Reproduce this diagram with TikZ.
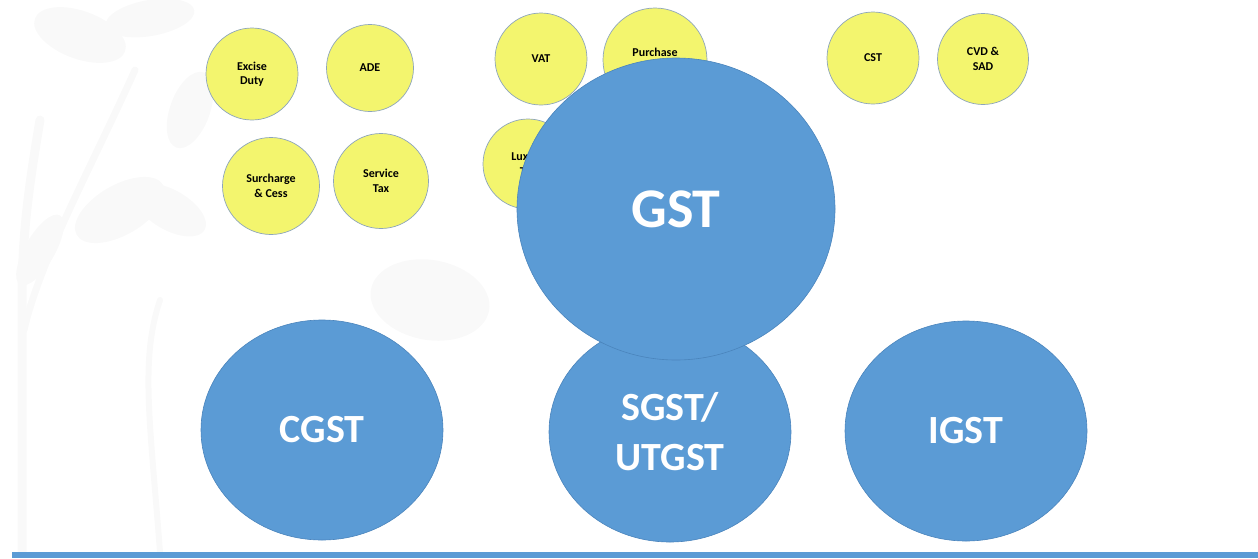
\documentclass[tikz,border=0pt]{standalone}
\usepackage{fontspec}
\setmainfont{Carlito}
\usetikzlibrary{shapes.geometric}

\definecolor{gstblue}{HTML}{5B9BD5}
\definecolor{gstrim}{HTML}{4A84BC}
\definecolor{taxyellow}{HTML}{F3F56E}
\definecolor{rimgrey}{HTML}{8DA5BC}
\definecolor{leafgrey}{HTML}{F9F9F9}

\begin{document}
\begin{tikzpicture}[x=1pt,y=-1pt,
    old/.style={circle, draw=rimgrey, line width=0.7pt, fill=taxyellow,
        align=center, inner sep=0pt, font=\fontsize{12}{14.5}\selectfont\bfseries},
    new/.style={ellipse, fill=gstblue, draw=gstrim, line width=0.6pt,
        text=white, align=center, inner sep=0pt,
        minimum width=242pt, minimum height=220pt,
        font=\fontsize{40}{50}\selectfont\bfseries},
    leaf/.style={fill=leafgrey, draw=none}]
    \useasboundingbox (0,0) rectangle (1258,558);

    % faint tree in the background
    \draw[leafgrey, line width=9pt, line cap=round]
        (22,552) -- (22,300) .. controls (22,230) and (30,180) .. (40,120);
    \draw[leafgrey, line width=7pt, line cap=round]
        (24,330) .. controls (40,260) and (90,170) .. (135,70);
    \draw[leafgrey, line width=6pt, line cap=round]
        (160,300) .. controls (140,360) and (150,420) .. (160,552);
    \fill[leaf, rotate around={-20:(80,35)}] (80,35) ellipse (48 and 24);
    \fill[leaf, rotate around={10:(150,18)}] (150,18) ellipse (45 and 18);
    \fill[leaf, rotate around={70:(190,110)}] (190,110) ellipse (40 and 20);
    \fill[leaf, rotate around={30:(120,210)}] (120,210) ellipse (50 and 25);
    \fill[leaf, rotate around={-30:(170,210)}] (170,210) ellipse (40 and 20);
    \fill[leaf, rotate around={60:(40,250)}] (40,250) ellipse (40 and 15);
    \fill[leaf, rotate around={-10:(430,300)}] (430,300) ellipse (60 and 40);

    % old taxes
    \node[old, minimum size=92pt] (excise) at (252,74) {Excise\\Duty};
    \node[old, minimum size=87pt] (ade) at (370,68) {ADE};
    \node[old, minimum size=97pt] (surcharge) at (271,186) {Surcharge\\\& Cess};
    \node[old, minimum size=95pt] (service) at (381,181) {Service\\Tax};
    \node[old, minimum size=92pt] (vat) at (541,59) {VAT};
    \node[old, minimum size=104pt] (purchase) at (655,60) {Purchase\\Tax};
    \node[old, minimum size=90pt] (luxury) at (528,164) {Luxury\\Tax};
    \node[old, minimum size=92pt] (cst) at (873,58) {CST};
    \node[old, minimum size=91pt] (cvd) at (983,59) {CVD \&\\SAD};

    % GST and its parts
    \node[new] (cgst) at (322,430) {CGST};
    \node[new] (sgst) at (670,432) {SGST/\\UTGST};
    \node[new] (igst) at (966,431) {IGST};
    \node[new, minimum width=318pt, minimum height=302pt,
        font=\fontsize{56}{66}\selectfont\bfseries] (gst) at (676,209) {GST};

    \fill[gstblue] (12,552) rectangle (1258,558);
\end{tikzpicture}
\end{document}
